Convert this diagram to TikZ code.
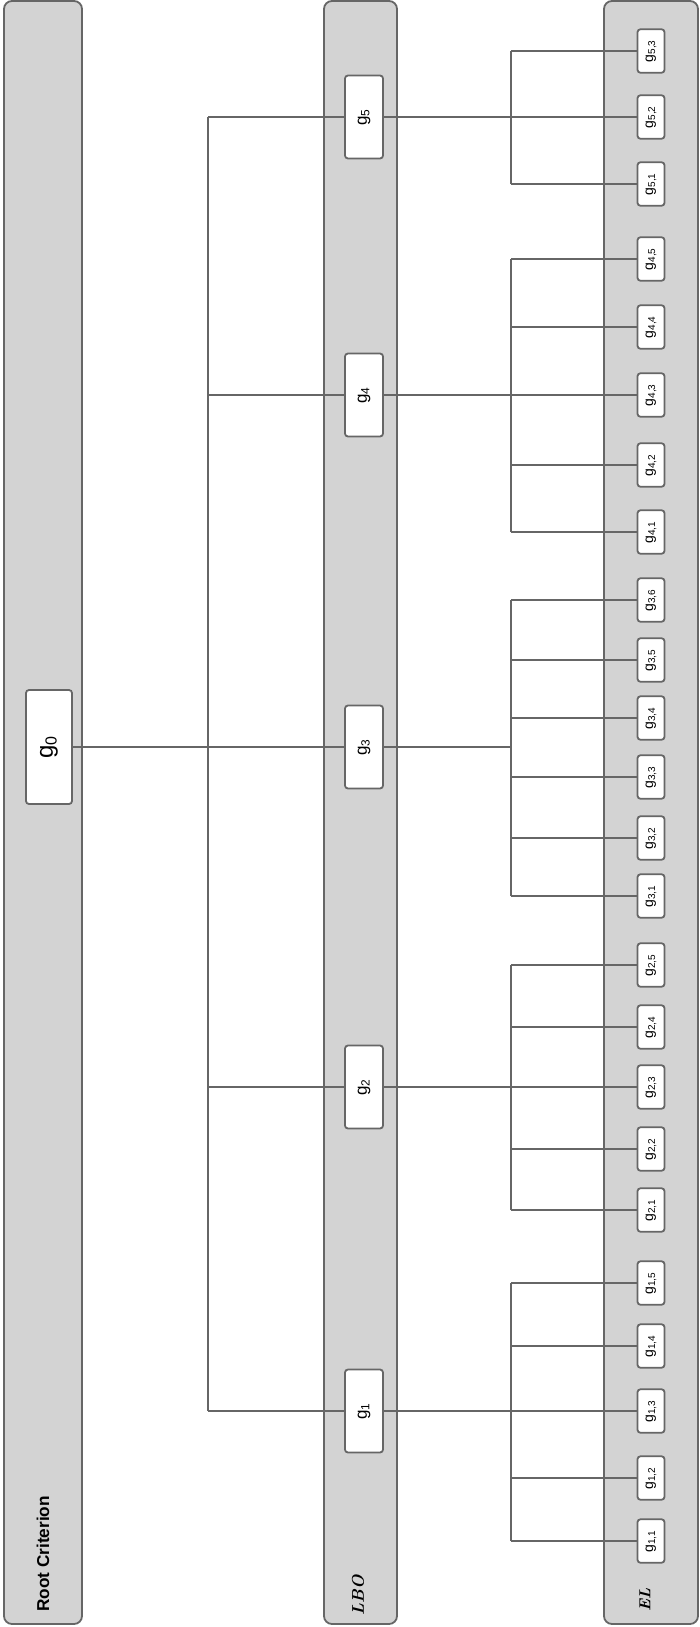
\documentclass[tikz,border=0pt]{standalone}
\usepackage{fontspec}
\usepackage{graphicx}
\newfontfamily\arialfont{Liberation Sans}
\definecolor{bandgray}{HTML}{D3D3D3}
\definecolor{linegray}{HTML}{666666}

\begin{document}
\begin{tikzpicture}[x=0.5pt, y=-0.5pt,
  band/.style={draw=linegray, fill=bandgray, line width=0.9pt, rounded corners=4pt},
  crit/.style={draw=linegray, fill=white, line width=0.9pt, rounded corners=1.5pt, inner sep=0pt, font=\arialfont},
  root/.style={crit, minimum width=23pt, minimum height=57pt},
  lbo/.style={crit, minimum width=19pt, minimum height=41.5pt},
  leaf/.style={crit, minimum width=13.5pt, minimum height=21.75pt},
  link/.style={draw=linegray, line width=1pt},
  level/.style={rotate=90, anchor=west, inner sep=0pt}]
  \useasboundingbox (0,0) rectangle (700,1627);

  % Levels
  \draw[band] (4,1) rectangle (82,1624);
  \draw[band] (324,1) rectangle (397,1624);
  \draw[band] (604,1) rectangle (698,1624);
  \node[level, font=\arialfont\bfseries\fontsize{8.6}{10}\selectfont] (rootlabel) at (43,1612) {Root Criterion};
  \node[level, font=\bfseries\itshape\fontsize{8.5}{10}\selectfont] (lbolabel) at (358,1616) {LBO};
  \node[level, font=\bfseries\itshape\fontsize{8}{10}\selectfont] (ellabel) at (645,1612) {EL};

  % Root criterion
  \node[root] (g0) at (49,747) {\fontsize{12}{14}\selectfont\rotatebox{90}{g\textsubscript{0}}};

  % LBO criteria
  \foreach \i/\y in {1/1411, 2/1087, 3/747, 4/395, 5/117}
    \node[lbo] (g\i) at (364,\y) {\fontsize{8.5}{10}\selectfont\rotatebox{90}{g\textsubscript{\i}}};

  % Elementary criteria
  \foreach \i/\j/\y in {1/1/1541, 1/2/1478, 1/3/1411, 1/4/1346, 1/5/1283,
                        2/1/1210, 2/2/1149, 2/3/1087, 2/4/1027, 2/5/965,
                        3/1/896, 3/2/838, 3/3/777, 3/4/718, 3/5/660, 3/6/600,
                        4/1/532, 4/2/465, 4/3/395, 4/4/327, 4/5/259,
                        5/1/184, 5/2/117, 5/3/51}
    \node[leaf] (g\i\j) at (651,\y) {\fontsize{7}{8}\selectfont\rotatebox{90}{g\textsubscript{\i,\j}}};

  % Connectors
  \coordinate (rootbus) at (208,0);
  \coordinate (leafbus) at (511,0);
  \draw[link] (g0.east) -- (g3.west);
  \draw[link] (g1.west -| rootbus) -- (g5.west -| rootbus);
  \foreach \i in {1,...,5}
    \draw[link] (g\i.west -| rootbus) -- (g\i.west);
  \foreach \i/\n in {1/5, 2/5, 3/6, 4/5, 5/3} {
    \draw[link] (g\i.east) -- (g\i.east -| leafbus);
    \draw[link] (g\i1.west -| leafbus) -- (g\i\n.west -| leafbus);
    \foreach \j in {1,...,\n}
      \draw[link] (g\i\j.west -| leafbus) -- (g\i\j.west);
  }
\end{tikzpicture}
\end{document}
